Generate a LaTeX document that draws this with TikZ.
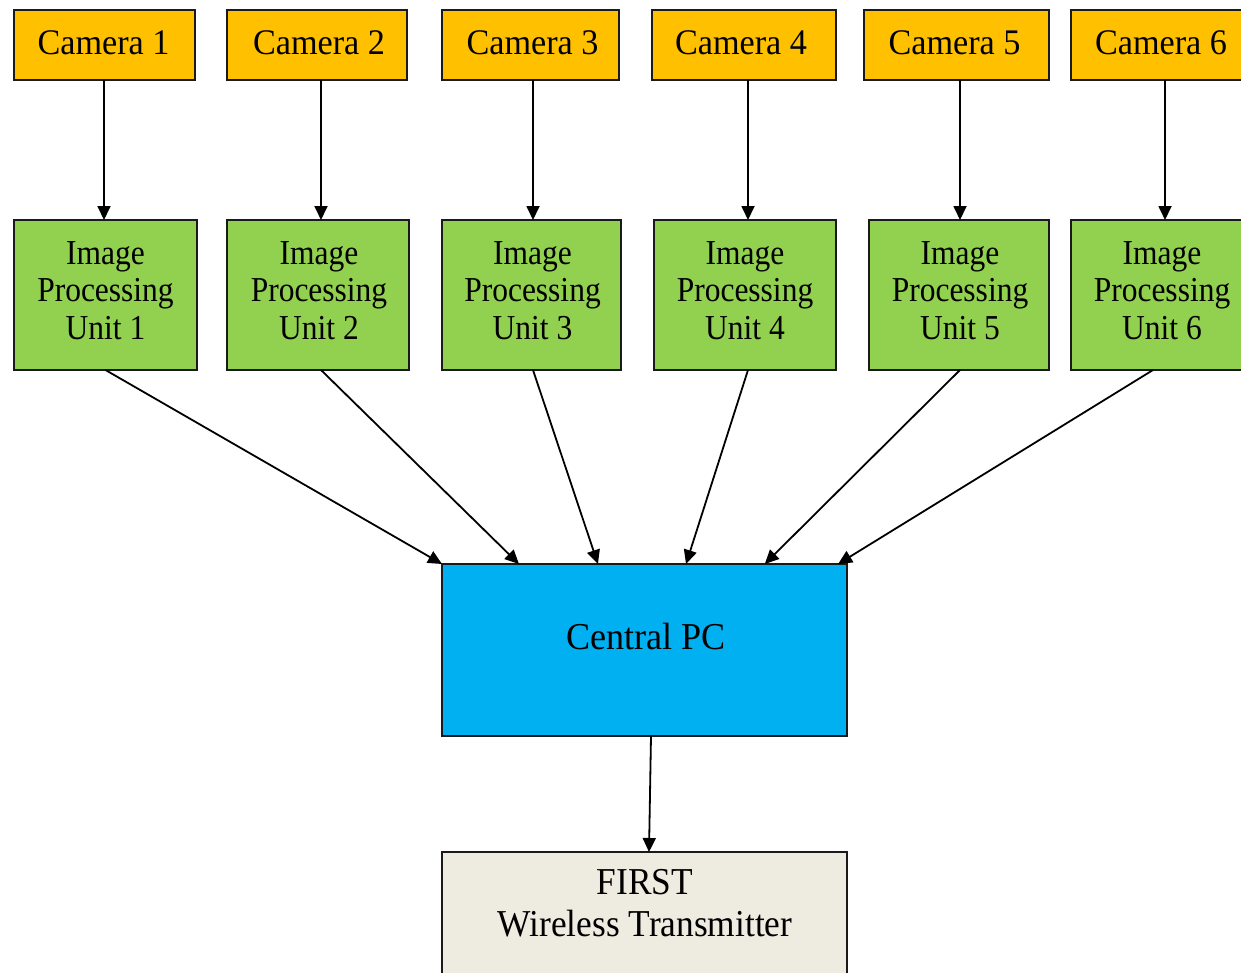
\documentclass[tikz,border=0pt]{standalone}
\usepackage{fontspec}
\setmainfont{Liberation Serif}
\usetikzlibrary{arrows.meta,calc}
\definecolor{camorange}{HTML}{FFC000}
\definecolor{ipugreen}{HTML}{92D050}
\definecolor{pcblue}{HTML}{00B0F0}
\definecolor{txbeige}{HTML}{EEECE1}
\definecolor{edgegray}{HTML}{1A1A1A}
\newcommand{\narrowtxt}[2][0.9]{\scalebox{#1}[1]{\begin{tabular}{@{}c@{}}#2\end{tabular}}}
\begin{document}
\begin{tikzpicture}[x=1pt,y=-1pt,
  box/.style={draw=edgegray, line width=1.8pt, inner sep=0pt, outer sep=0pt, align=center},
  cambox/.style={box, fill=camorange, minimum height=70pt},
  ipubox/.style={box, fill=ipugreen, minimum height=150pt},
  pcbox/.style={box, fill=pcblue},
  txbox/.style={box, fill=txbeige},
  lbl/.style={inner sep=0pt, align=center, font=\fontsize{35}{37.5}\selectfont},
  camlbl/.style={inner sep=0pt, align=center, font=\fontsize{36}{38}\selectfont},
  biglbl/.style={inner sep=0pt, align=center, font=\fontsize{38}{42}\selectfont},
  arr/.style={draw=black, line width=1.8pt, -{Triangle[length=14pt,width=13pt]}}]
\clip (0,0) rectangle (1241,972);
\fill[white] (0,0) rectangle (1241,972);
% cameras
\node[cambox, minimum width=181pt] (cam1) at (104.5,45) {};
\node[cambox, minimum width=180pt] (cam2) at (317,45) {};
\node[cambox, minimum width=177pt] (cam3) at (530.5,45) {};
\node[cambox, minimum width=184pt] (cam4) at (744,45) {};
\node[cambox, minimum width=185pt] (cam5) at (956.5,45) {};
\node[cambox, minimum width=188pt] (cam6) at (1165,45) {};
\foreach \i/\dx in {1/-1,2/2,3/2,4/-3,5/-2,6/-4}{
  \node[camlbl] (caml\i) at ([xshift=\dx pt, yshift=-2pt]cam\i.center) {\narrowtxt[0.95]{Camera \i}};
}
% image processing units
\node[ipubox, minimum width=183pt] (ipu1) at (105.5,295) {};
\node[ipubox, minimum width=182pt] (ipu2) at (318,295) {};
\node[ipubox, minimum width=179pt] (ipu3) at (531.5,295) {};
\node[ipubox, minimum width=182pt] (ipu4) at (745,295) {};
\node[ipubox, minimum width=180pt] (ipu5) at (959,295) {};
\node[ipubox, minimum width=188pt] (ipu6) at (1165,295) {};
\foreach \i/\dx in {1/0,2/1,3/1,4/0,5/1,6/-3}{
  \node[lbl] (ipul\i) at ([xshift=\dx pt, yshift=1pt]ipu\i.center) {\narrowtxt{Image\\Processing\\Unit \i}};
}
% central PC and transmitter
\node[pcbox, minimum width=405pt, minimum height=172pt] (pc) at (644.5,650) {};
\node[biglbl] (pclbl) at (646,641) {\narrowtxt[0.95]{Central PC}};
\node[txbox, minimum width=405pt, minimum height=148pt] (tx) at (644.5,926) {};
\node[biglbl] (txlbl) at (645,907) {\narrowtxt[0.93]{FIRST\\Wireless Transmitter}};
% camera -> IPU arrows
\foreach \i/\dx in {1/-0.5,2/4,3/2.5,4/4,5/3.5,6/0}{
  \draw[arr] ([xshift=\dx pt]cam\i.south) -- ([xshift=\dx pt]cam\i.south |- ipu\i.north);
}
% IPU -> PC arrows
\draw[arr] (ipu1.south) -- ($(pc.north west)!0.0!(pc.north east)$);
\draw[arr] ([xshift=3pt]ipu2.south) -- ($(pc.north west)!0.19!(pc.north east)$);
\draw[arr] ([xshift=1.5pt]ipu3.south) -- ($(pc.north west)!0.385!(pc.north east)$);
\draw[arr] ([xshift=3pt]ipu4.south) -- ($(pc.north west)!0.6025!(pc.north east)$);
\draw[arr] ([xshift=1pt]ipu5.south) -- ($(pc.north west)!0.797!(pc.north east)$);
\draw[arr] ([xshift=-12pt]ipu6.south) -- ($(pc.north west)!0.978!(pc.north east)$);
% PC -> transmitter
\draw[arr] ([xshift=6.5pt]pc.south) -- ([xshift=4.5pt]tx.north);
\end{tikzpicture}
\end{document}
